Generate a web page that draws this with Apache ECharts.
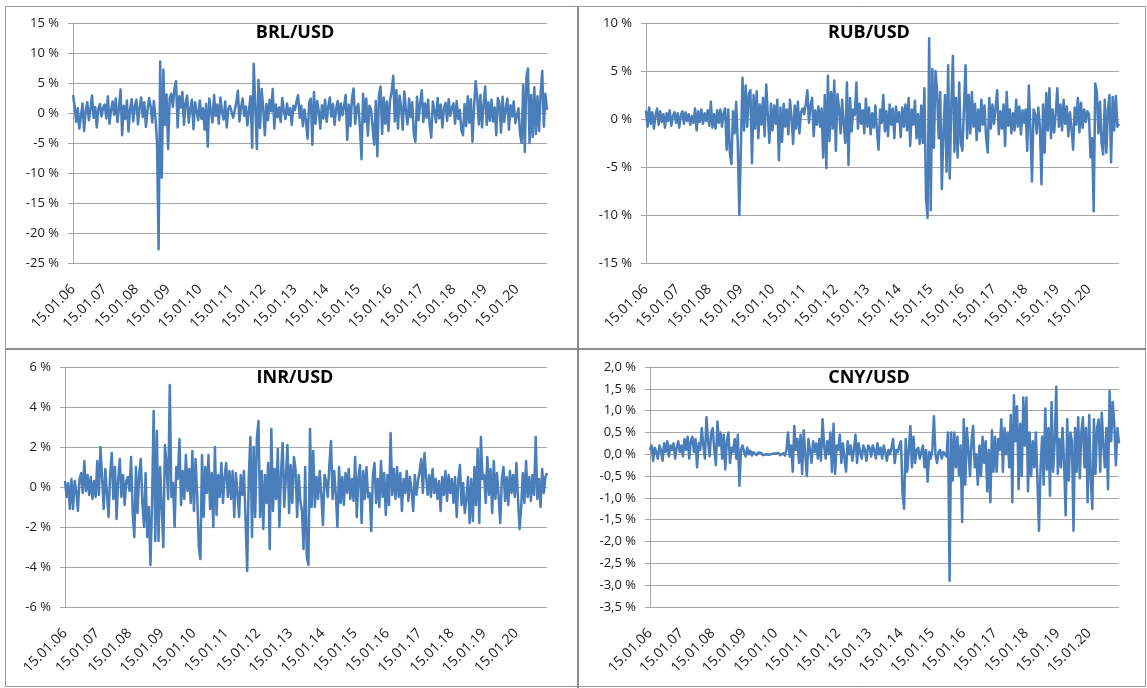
<!DOCTYPE html>
<html>
<head>
<meta charset="utf-8">
<script src="https://cdn.jsdelivr.net/npm/echarts@6/dist/echarts.min.js"></script>
<style>
  html, body { margin: 0; padding: 0; background: #fff; }
  #chart { width: 1147px; height: 688px; }
</style>
</head>
<body>
<div id="chart"></div>
<script>
//--------------------- Data ---------------------------//
// x tick labels, one per year; 20 readings per year between them
const tickLabels = ['15.01.06', '15.01.07', '15.01.08', '15.01.09', '15.01.10', '15.01.11', '15.01.12',
  '15.01.13', '15.01.14', '15.01.15', '15.01.16', '15.01.17', '15.01.18', '15.01.19', '15.01.20'];
const perYear = 20;

// returns in % (rows = years 2006..2020)
const brlUsd = [
  3.0, 1.2, -1.5, 0.8, -2.6, -0.5, 1.6, -3.0, 0.4, 1.8, -1.2, 0.6, 2.9, -0.8, 1.0, -2.4, 0.7, 1.5, -0.6, 0.9,
  1.4, -0.9, 2.8, -1.8, 0.5, 1.9, -0.3, 2.4, -1.5, 0.8, 3.9, -3.7, 1.2, -1.0, 2.1, -3.1, 0.6, 2.3, -1.4, 1.1,
  2.2, -1.9, 0.9, 2.6, -0.7, 1.8, -2.3, 0.4, 2.5, 1.1, -1.6, 2.0, -0.8, -4.9, -22.7, 8.6, -10.8, 7.2, -2.0, 3.1,
  -6.0, 2.5, 3.2, 1.0, 4.1, 5.3, -2.4, 2.8, 0.9, 3.5, -2.0, 1.7, 2.9, -1.6, 0.6, 2.2, -2.7, 1.8, 0.3, -1.2,
  2.1, -1.0, 0.8, -2.8, 1.5, -5.6, 2.4, 0.3, -1.6, 3.0, -0.5, 1.4, -1.8, 2.6, 0.2, -1.1, 1.9, -2.4, 0.7, 1.2,
  1.5, -0.8, 0.4, 1.7, 3.7, -1.4, 0.9, 2.4, -0.5, 1.1, -2.1, 0.6, 2.8, -5.8, 8.2, 1.0, -6.0, 5.5, -2.5, 4.0,
  0.8, -3.7, 1.5, -1.2, 2.2, 0.3, 4.0, -2.6, 1.4, -0.7, 0.9, -1.5, 2.5, 0.4, -1.0, 1.6, -0.3, 0.8, -2.0, 1.2,
  0.5, 1.9, 3.0, -0.8, 1.2, -2.2, 0.6, -1.4, -4.3, 1.8, 2.4, -5.3, 3.5, -1.8, 2.0, 0.4, -2.6, 1.3, -0.9, 2.2,
  -1.5, 1.0, 2.6, -0.6, 1.5, -2.0, 0.8, 2.0, -1.2, 1.6, -0.4, 1.1, 3.0, -4.5, 1.4, -2.2, 2.5, 4.1, -1.8, 0.9,
  1.5, -2.4, -7.7, 3.2, -1.5, 2.4, -3.8, 1.2, 0.6, -2.5, -5.3, 2.0, -7.2, 3.0, 4.4, -3.5, 2.6, -1.8, 1.9, -3.0,
  2.2, 3.5, 6.2, -1.4, 3.8, -2.6, 2.9, 1.0, -2.8, 3.6, 0.5, -1.9, 2.4, -0.7, 1.8, -3.5, -4.8, 2.7, -1.2, 1.6,
  3.8, -1.5, 1.6, -0.8, 2.2, -2.0, -4.1, 1.9, 0.4, -1.6, 2.5, -0.9, 1.4, -2.4, 0.8, 1.7, -1.3, 2.3, -0.5, 0.9,
  1.6, -1.8, 2.0, -1.0, 0.5, -2.9, -3.7, 1.5, -2.2, 2.8, -1.6, 2.3, -4.8, 1.0, 5.3, 2.6, -1.9, 3.0, -2.4, 1.4,
  4.4, -2.0, 1.8, -1.3, 2.2, -1.4, 0.9, -3.7, 2.5, 1.6, -3.3, 2.7, -1.5, 0.7, 2.4, -2.8, 1.3, -0.6, 1.9, -1.7,
  -1.5, 0.8, -3.5, -5.0, 4.7, -6.5, 6.0, 7.4, -5.0, 3.0, -4.0, 4.3, -3.5, 2.8, -3.0, 3.3, 7.0, -2.3, 3.2, 0.5
];

const rubUsd = [
  0.9, -0.8, 1.2, -0.5, 0.7, -1.0, 0.4, 1.1, -0.6, 0.8, -0.3, 0.5, -0.9, 0.6, -0.2, 0.9, -0.7, 0.3, 0.7, -0.4,
  0.6, -0.9, 0.4, 0.8, -0.5, 0.7, -0.2, 0.5, -0.6, 0.3, -0.4, 1.1, -1.2, 0.8, -0.3, 1.0, -0.5, 0.6, -0.2, 0.9,
  -0.7, 1.8, -0.9, 0.5, -1.0, 0.9, -0.4, 1.0, -0.8, 0.6, 1.1, -3.2, 1.0, -3.5, -4.7, 0.8, -1.5, 1.8, -2.5, -10.0,
  -9.8, 4.3, -1.2, 3.5, -0.8, 2.6, 3.0, -4.6, 2.5, -1.0, 2.9, -2.0, 1.5, -0.6, 2.2, -1.8, 3.6, 0.5, -2.5, 1.6,
  -1.2, 1.4, -0.5, 2.0, -4.3, 1.2, -2.4, 1.6, -0.8, 1.0, -1.6, 2.0, 0.2, -2.6, 1.4, -1.0, 1.8, -1.5, 0.7, 1.1,
  0.5, 1.6, 3.0, -0.4, 1.4, 2.2, -1.8, 0.9, -0.6, 1.3, -0.8, 1.1, -4.0, 2.5, -5.1, 4.5, -2.3, 2.8, -1.0, 4.0,
  -3.3, 2.6, 1.2, -1.5, 2.0, -0.7, -2.5, 3.8, -4.8, 2.2, -1.3, 1.0, 0.4, 3.8, -1.0, 1.6, -0.5, 0.9, -1.5, 2.1,
  -0.8, 1.2, -1.6, 0.6, -0.9, 1.4, -1.2, -3.2, 1.0, -0.4, 2.5, -1.3, 0.8, -1.8, 1.5, -0.6, 1.1, -2.0, 1.3, -0.3,
  0.7, -1.9, 1.2, -0.8, 1.5, -1.2, 2.2, -2.8, 1.0, -0.6, 1.9, -2.0, 0.5, -2.6, 1.4, -2.5, 3.2, -8.2, -10.3, 8.4,
  -9.5, 5.2, -3.0, 5.0, 3.0, -2.0, 2.8, -7.3, -1.5, 2.5, -5.5, 5.6, -6.2, 1.5, 6.6, -3.4, 2.2, -4.0, 3.8, -2.5,
  -3.3, 1.2, 5.6, -2.0, 2.5, -1.5, 2.8, -0.8, 1.6, -2.2, 1.0, -1.3, 2.0, -0.6, 1.4, -2.0, -3.5, 2.2, -1.0, 1.5,
  -0.5, 1.2, 3.0, -1.6, 0.8, -1.0, 1.5, -2.8, 2.8, -0.7, 1.0, -1.5, 0.6, -1.2, 2.0, -0.8, 1.3, -1.6, 0.9, -0.4,
  1.0, -3.3, 3.5, -1.0, -6.5, 1.0, 0.5, -1.5, 1.2, -0.8, -6.8, 1.5, -3.5, 2.7, -1.2, 3.2, -2.0, 1.0, -1.4, 0.6,
  3.2, -0.8, 1.5, -1.2, 2.0, -0.5, 1.3, -1.8, 0.7, -1.0, -3.2, 1.2, -0.6, 2.2, -1.4, 1.7, -0.9, 1.0, -0.3, 0.8,
  0.5, -4.0, -2.0, -9.6, 3.7, 2.8, -1.5, 1.8, -2.5, -3.7, 2.0, -3.5, 1.0, 2.5, -4.5, 2.3, -1.2, 2.4, -0.8, -0.5
];

const inrUsd = [
  0.3, -0.5, 0.2, -1.1, 0.4, -1.1, 0.3, -0.2, -1.2, 0.4, 0.7, -0.3, 1.3, -0.2, 0.6, -0.4, 0.5, -0.6, 0.3, -0.5,
  1.3, -0.4, 2.0, 0.5, -1.1, 0.9, -0.3, -1.5, 0.6, 1.7, -0.6, 1.0, -1.6, 0.4, 1.4, -0.5, 0.6, -0.9, 0.3, 0.5,
  -0.2, 1.5, -1.3, -2.5, 1.0, -1.3, 0.6, 1.4, -0.8, -2.0, 0.7, -2.5, -1.0, -3.9, -0.8, 3.8, -2.7, 2.8, -2.7, 1.0,
  0.9, -3.0, 2.1, 1.2, -0.6, 5.1, -0.5, 0.2, -2.0, 1.0, 0.4, 2.4, -0.9, 0.8, -0.6, 1.6, -0.2, 0.9, -0.8, 1.8,
  -1.2, 1.4, -0.4, -3.0, -3.6, 1.6, -1.5, 1.0, -0.3, 1.6, -1.1, 0.7, -2.0, 2.0, -1.4, 0.6, -0.5, 1.2, -0.8, 0.5,
  1.2, -0.5, 0.8, -0.6, 0.8, -1.5, 0.7, -0.3, -1.5, 0.6, -0.4, 0.8, -1.6, -4.2, 0.5, 2.5, -2.5, 2.0, -1.5, 2.4,
  3.3, -1.5, 0.8, -2.1, 0.6, -0.8, 1.2, -3.1, 2.9, -1.2, 0.9, -0.6, 1.9, -2.0, 0.7, 2.2, -1.0, 0.5, 2.1, -1.3,
  1.1, -0.8, 1.5, 0.9, -1.5, 0.6, -0.7, -1.2, -3.1, 1.0, -3.5, -3.9, 2.9, -1.0, 1.8, -1.0, 0.5, -0.6, 0.8, -0.4,
  -1.9, 0.6, 0.3, -0.5, 1.1, 2.3, -0.6, 0.8, -0.4, -2.0, 1.0, -0.8, 0.5, -0.9, 0.7, -0.3, 0.9, -0.6, 0.4, -0.7,
  1.5, -1.5, 0.5, 1.1, -1.8, 0.8, -0.6, 1.0, -0.5, -0.3, -2.2, 0.6, 1.2, -0.8, 0.4, -1.0, 1.3, -0.5, 0.7, -1.4,
  0.6, -0.9, 2.7, -0.4, 0.9, -0.6, 1.0, -0.5, 0.7, -1.2, 0.4, -0.3, 0.8, -0.7, 0.5, -0.2, -1.2, 0.6, -0.4, 0.3,
  0.8, 1.4, -0.3, 1.7, 0.5, -0.4, 0.6, -0.5, 0.9, -0.3, 0.4, -0.6, 0.3, -1.2, 0.5, -0.4, 0.8, -0.7, 0.6, -0.3,
  0.4, -0.8, 0.5, -1.5, 0.3, 1.1, -0.9, 0.2, -1.3, -0.6, 0.5, -1.8, 0.4, -1.7, 1.0, -0.9, 1.9, -1.8, 2.5, 0.4,
  0.6, -0.8, 1.5, -0.4, 0.9, -1.3, 1.3, -0.6, 0.7, -0.5, -1.8, 0.4, 1.0, -0.7, 0.5, -0.9, 0.8, -0.3, 0.6, -0.5,
  1.2, -0.6, -2.1, -1.0, 0.7, -0.8, 1.3, -0.5, 0.5, -0.7, 0.6, -0.4, 2.5, -0.6, 0.4, -1.0, 0.9, -0.3, 0.5, 0.7
];

const cnyUsd = [
  0.1, 0.2, -0.15, 0.15, 0.05, -0.1, 0.2, 0.1, -0.15, 0.25, 0.05, 0.3, -0.05, 0.2, 0.1, 0.25, -0.1, 0.15, 0.3, 0.05,
  0.2, -0.05, 0.35, 0.1, 0.4, -0.1, 0.3, 0.4, 0.05, 0.35, -0.3, 0.25, 0.1, 0.6, 0.2, -0.1, 0.85, 0.3, -0.05, 0.5,
  0.6, 0.1, -0.25, 0.75, 0.2, 0.5, -0.1, 0.45, -0.35, 0.3, 0.5, -0.2, 0.15, 0.05, 0.35, -0.1, 0.45, -0.72, 0.1, 0.2,
  0.05, -0.05, 0.15, 0.0, 0.08, -0.03, 0.05, 0.02, -0.02, 0.04, 0.0, 0.03, -0.02, 0.02, 0.0, 0.03, -0.01, 0.02, 0.01, -0.02,
  0.02, 0.0, 0.03, -0.02, 0.01, 0.02, -0.03, 0.1, 0.5, -0.05, 0.2, -0.4, 0.65, 0.1, 0.35, -0.2, 0.45, -0.45, 0.55, 0.0,
  -0.5, 0.35, 0.1, -0.2, 0.3, 0.05, 0.25, -0.1, 0.35, -0.15, 0.8, 0.2, -0.1, 0.3, 0.0, 0.5, -0.4, 0.7, -0.45, 0.2,
  0.1, 0.45, -0.2, 0.25, -0.1, -0.4, 0.3, 0.0, 0.2, -0.15, 0.1, 0.45, -0.2, 0.25, 0.05, -0.1, 0.2, 0.1, -0.15, 0.2,
  0.15, -0.05, 0.2, 0.1, -0.1, 0.25, 0.0, 0.15, -0.1, 0.2, 0.05, -0.15, 0.1, 0.0, 0.15, 0.35, -0.2, 0.1, 0.05, 0.2,
  0.3, -0.9, -1.25, 0.35, -0.4, 0.1, 0.65, -0.3, 0.4, -0.2, 0.1, 0.15, -0.1, 0.05, 0.2, -0.3, 0.1, -0.63, 0.05, -0.1,
  0.1, 0.87, 0.0, -0.2, 0.05, 0.1, -0.1, 0.05, 0.0, -0.05, 0.5, -2.9, 0.5, -0.6, 0.5, -0.3, 0.4, -0.5, 0.2, -1.55,
  0.8, -0.7, 0.6, 0.1, -0.5, 0.3, 0.65, -0.3, 0.0, -0.7, 0.2, -0.5, 0.4, -0.2, 0.3, -0.85, 0.1, -1.1, 0.55, -0.4,
  0.4, -0.4, 0.35, 0.1, 0.8, -0.4, 0.6, 0.0, 0.5, -0.3, 0.9, -1.1, 1.35, 0.3, 1.1, -0.8, 0.7, -0.5, 1.3, 0.2,
  1.3, -0.85, 0.5, -0.5, 0.3, -0.3, 0.5, -0.6, -1.75, -0.3, 0.4, -0.7, 1.05, -0.35, 0.6, -0.95, 1.2, -0.4, 0.3, 1.55,
  -0.45, 0.35, -0.3, 0.6, -0.2, -1.4, 0.8, -0.6, 0.5, 0.3, -1.75, 0.6, -0.4, 0.85, -0.55, 0.5, 0.85, -0.3, 0.6, -1.1,
  0.9, -0.6, -1.25, 0.8, -0.45, 0.6, 0.8, -0.4, 0.95, 0.2, -0.3, 0.6, -0.8, 1.45, 0.3, 1.2, 0.7, -0.25, 0.6, 0.25
];

//--------------------- Layout ---------------------------//
const fontFamily = '"Open Sans", "Liberation Sans", sans-serif';
const lineColor = '#4a7ebb';
const gridColor = '#a6a6a6';
const xCategories = Array.from({ length: brlUsd.length }, (_, i) => i);

const panels = [
  { name: 'BRL/USD', data: brlUsd, min: -25, max: 15, step: 5, grid: { left: 73, top: 23, width: 474, height: 240 }, titleX: 290, titleY: 19 },
  { name: 'RUB/USD', data: rubUsd, min: -15, max: 10, step: 5, grid: { left: 646, top: 23, width: 473, height: 240 }, titleX: 864, titleY: 19 },
  { name: 'INR/USD', data: inrUsd, min: -6, max: 6, step: 2, grid: { left: 65, top: 367, width: 482, height: 240 }, titleX: 290, titleY: 364 },
  { name: 'CNY/USD', data: cnyUsd, min: -3.5, max: 2, step: 0.5, decimals: 1, grid: { left: 650, top: 367, width: 469, height: 240 }, titleX: 864, titleY: 364 }
];

// Excel-style labels: "5 %", "-1,5 %"
function pctLabel(v, decimals) {
  const s = decimals ? v.toFixed(decimals).replace('.', ',') : String(v);
  return s + ' %';
}

const option = {
  animation: false,
  backgroundColor: '#fff',
  title: panels.map(p => ({
    text: p.name,
    left: p.titleX,
    top: p.titleY,
    textAlign: 'center',
    textStyle: { fontFamily: fontFamily, fontSize: 18, fontWeight: 'bold', color: '#000' }
  })),
  grid: panels.map(p => Object.assign({ containLabel: false }, p.grid)),
  xAxis: panels.map((p, i) => ({
    type: 'category',
    gridIndex: i,
    data: xCategories,
    boundaryGap: false,
    axisLine: { lineStyle: { color: gridColor } },
    axisTick: { show: false },
    axisLabel: {
      interval: idx => idx % perYear === 0 && idx / perYear < tickLabels.length,
      formatter: (v, idx) => tickLabels[idx / perYear],
      rotate: 45,
      margin: 24,
      fontFamily: fontFamily,
      fontSize: 14,
      color: '#1a1a1a'
    },
    splitLine: { show: false }
  })),
  yAxis: panels.map((p, i) => ({
    type: 'value',
    gridIndex: i,
    min: p.min,
    max: p.max,
    interval: p.step,
    axisLine: { show: true, lineStyle: { color: gridColor } },
    axisTick: { show: true, length: 5, lineStyle: { color: gridColor } },
    axisLabel: {
      formatter: v => pctLabel(v, p.decimals),
      margin: 14,
      fontFamily: fontFamily,
      fontSize: 13,
      color: '#1a1a1a'
    },
    splitLine: { lineStyle: { color: gridColor, width: 1 } }
  })),
  series: panels.map((p, i) => ({
    name: p.name,
    type: 'line',
    xAxisIndex: i,
    yAxisIndex: i,
    data: p.data,
    showSymbol: false,
    lineStyle: { color: lineColor, width: 2.5, join: 'round' },
    itemStyle: { color: lineColor }
  })),
  // panel frame like the pasted Excel sheet
  graphic: [
    { type: 'rect', shape: { x: 5.5, y: 6.5, width: 1140, height: 680 }, style: { fill: null, stroke: '#9a9a9a', lineWidth: 1 }, silent: true },
    { type: 'line', shape: { x1: 578, y1: 6, x2: 578, y2: 688 }, style: { stroke: '#8c8c8c', lineWidth: 2 }, silent: true },
    { type: 'line', shape: { x1: 5, y1: 349, x2: 1146, y2: 349 }, style: { stroke: '#8c8c8c', lineWidth: 2 }, silent: true }
  ]
};

const cacheChart = echarts.init(document.getElementById('chart'), null, { renderer: 'canvas' });
cacheChart.setOption(option);
</script>
</body>
</html>
